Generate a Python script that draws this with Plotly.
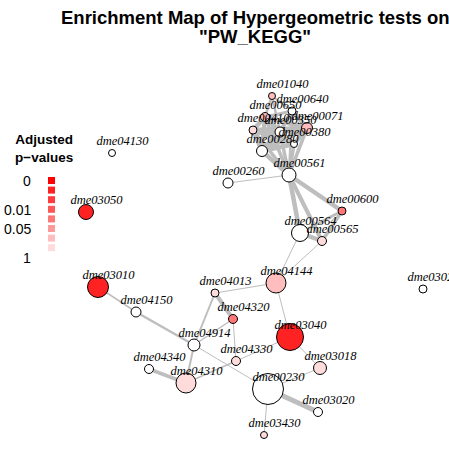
import plotly.graph_objects as go

# ---- data: enrichment map nodes (layout coordinates), gene-set size, p-value colour level ----
node_ids = ["dme01040", "dme00640", "dme00650", "dme00071", "dme00410", "dme00350",
            "dme00380", "dme00280", "dme00561", "dme00260", "dme00600", "dme00564",
            "dme00565", "dme04130", "dme03050", "dme03010", "dme04150", "dme04013",
            "dme04144", "dme04320", "dme03040", "dme04914", "dme04330", "dme03018",
            "dme04340", "dme04310", "dme00230", "dme03020", "dme03430", "dme03022"]
node_x = [272, 292, 265, 307, 253, 280, 294, 262, 289, 228, 342, 300,
          322, 112, 86, 98, 136, 215, 276, 233, 290, 194, 236, 320,
          149, 186, 268, 318, 264, 423]
node_y = [96, 111, 117, 128, 130, 132, 144, 151, 175, 183, 211, 233,
          241, 153, 212, 287, 312, 293, 283, 319, 337, 345, 361, 368,
          369, 383, 389, 412, 435, 289]
node_size = [7, 8, 9, 11, 8, 10, 7, 11, 14, 10, 8, 17,
             9, 7, 15, 21, 10, 8, 20, 9, 27, 12, 9, 13,
             9, 20, 31, 9, 7, 8]
# colour level: 0 = most significant (red) ... 8 = not significant (white)
node_level = [6, 8, 6, 6, 7, 8, 8, 8, 8, 8, 4, 8,
              7, 8, 1, 1, 8, 7, 6, 4, 1, 8, 7, 7,
              8, 7, 8, 8, 7, 8]

edges = [("dme03010", "dme04150", 1.5), ("dme04150", "dme04914", 2.5),
         ("dme04914", "dme04013", 2), ("dme04013", "dme04320", 4),
         ("dme04013", "dme04144", 1), ("dme04320", "dme04914", 1.5),
         ("dme04320", "dme04330", 1), ("dme04914", "dme04310", 2),
         ("dme04914", "dme00230", 1), ("dme04340", "dme04310", 3.5),
         ("dme04310", "dme04330", 1.5), ("dme04330", "dme03040", 1),
         ("dme04144", "dme03040", 1), ("dme04144", "dme00564", 1),
         ("dme04144", "dme00565", 1), ("dme03040", "dme03018", 1),
         ("dme03018", "dme00230", 1), ("dme00230", "dme03020", 5),
         ("dme00230", "dme03430", 1), ("dme00564", "dme00561", 4.5),
         ("dme00565", "dme00561", 4), ("dme00564", "dme00565", 4.5),
         ("dme00561", "dme00600", 4.5), ("dme00600", "dme00564", 3),
         ("dme00600", "dme00565", 3.5), ("dme00561", "dme00260", 1),
         ("dme00561", "dme00280", 4.5), ("dme00561", "dme00380", 3.5),
         ("dme00561", "dme00350", 3.5), ("dme00561", "dme00071", 3.5),
         ("dme00561", "dme00410", 3.5), ("dme00561", "dme00650", 3.5),
         ("dme00561", "dme00640", 2.5), ("dme00280", "dme00410", 4.5),
         ("dme00280", "dme00350", 5), ("dme00280", "dme00650", 4.5),
         ("dme00280", "dme00380", 4.5), ("dme00280", "dme00071", 4.5),
         ("dme00410", "dme00650", 4.5), ("dme00410", "dme00350", 5),
         ("dme00410", "dme00071", 4.5), ("dme00410", "dme00380", 4.5),
         ("dme00650", "dme00350", 5), ("dme00650", "dme00071", 4.5),
         ("dme00650", "dme00640", 3), ("dme00650", "dme01040", 2.5),
         ("dme00350", "dme00071", 5), ("dme00350", "dme00380", 4.5),
         ("dme00350", "dme00640", 4), ("dme00071", "dme00380", 4.5),
         ("dme00071", "dme00640", 4), ("dme01040", "dme00640", 2),
         ("dme01040", "dme00350", 2.5)]

legend_labels = ["0", "0.01", "0.05", "1"]
legend_label_pos = [0, 3, 5, 8]

palette = ["#FF0000", "#FF2222", "#FF3B3B", "#FF5656", "#FF7676",
           "#FF9A9A", "#FFBDBD", "#FFDCDC", "#FFFFFF"]

fig = go.Figure()
idx = {n: i for i, n in enumerate(node_ids)}
for a, b, w in edges:
    ia, ib = idx[a], idx[b]
    fig.add_trace(go.Scatter(x=[node_x[ia], node_x[ib]], y=[node_y[ia], node_y[ib]],
                             mode="lines", line=dict(color="#BEBEBE", width=w),
                             hoverinfo="skip", showlegend=False))

fig.add_trace(go.Scatter(x=node_x, y=node_y, mode="markers",
                         marker=dict(size=node_size, color=[palette[l] for l in node_level],
                                     line=dict(color="black", width=1), opacity=1),
                         text=node_ids, hoverinfo="text", showlegend=False))

fig.add_trace(go.Scatter(x=[x + 10.5 for x in node_x], y=[y - 11 for y in node_y],
                         mode="text", text=node_ids, cliponaxis=True,
                         textfont=dict(family="Liberation Serif", size=12.5, color="black",
                                       style="italic"),
                         hoverinfo="skip", showlegend=False))

# legend colour squares
sq_y = [180.5 + 9.6 * i for i in range(8)]
fig.add_trace(go.Scatter(x=[51.5] * 8, y=sq_y, mode="markers",
                         marker=dict(symbol="square", size=7, color=palette[:8],
                                     line=dict(width=0)),
                         hoverinfo="skip", showlegend=False))
for lab, p in zip(legend_labels, legend_label_pos):
    fig.add_annotation(x=33, y=181 + 9.6 * p, text=lab, showarrow=False,
                       xanchor="right", yanchor="middle",
                       font=dict(family="Liberation Sans", size=14, color="black"))
fig.add_annotation(x=43.5, y=148, text="<b>Adjusted<br>p\u2212values</b>", showarrow=False,
                   xanchor="center", yanchor="middle",
                   font=dict(family="Liberation Sans", size=13.5, color="black"))

# title (two lines)
title_lines = ["Enrichment Map of Hypergeometric tests on", "\"PW_KEGG\""]
for i, t in enumerate(title_lines):
    fig.add_annotation(x=255, y=17 + 19 * i, text="<b>" + t + "</b>", showarrow=False,
                       xanchor="center", yanchor="middle",
                       font=dict(family="Liberation Sans", size=18.5, color="black"))

fig.update_layout(
    width=449, height=449,
    margin=dict(l=0, r=0, t=0, b=0),
    paper_bgcolor="white", plot_bgcolor="white",
    xaxis=dict(range=[0, 449], visible=False, fixedrange=True),
    yaxis=dict(range=[449, 0], visible=False, fixedrange=True),
)

fig.write_html("out.html", config={"displayModeBar": False},
               post_script="document.body.style.margin='0px';document.body.style.overflow='hidden';")
